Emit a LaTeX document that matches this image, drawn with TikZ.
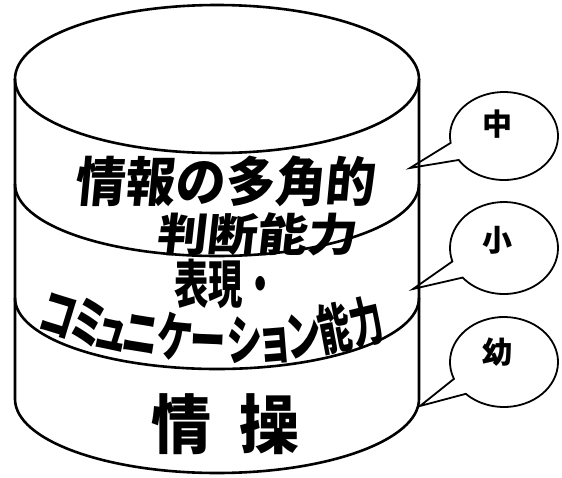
\documentclass[tikz,border=0pt]{standalone}
\usepackage{fontspec}
\usepackage{graphicx}
\newfontfamily\jp{Noto Sans CJK JP}
\newfontfamily\jpsl{Noto Sans CJK JP}[FakeSlant=0.1]
\newcommand\ktxsq[1]{\scalebox{0.66}[1]{#1}}
\newcommand\kjxsq[1]{\scalebox{0.6}[1]{#1}}
\begin{document}
\begin{tikzpicture}[x=1pt,y=-1pt,
  cyl/.style={line width=2.6pt},
  bub/.style={line width=1.8pt, line join=miter},
  big/.style={inner sep=0pt, text height=44pt, text depth=6pt, font=\jpsl\bfseries\fontsize{50}{50}\selectfont},
  kata/.style={inner sep=0pt, text height=47.5pt, text depth=6.5pt, font=\jp\bfseries\fontsize{54}{54}\selectfont},
  bubtxt/.style={inner sep=0pt, font=\jp\bfseries\fontsize{30}{30}\selectfont}]
\useasboundingbox (0,0) rectangle (562,477);
% cylinder
\draw[cyl] (217,79) ellipse [x radius=202, y radius=74];
\draw[cyl] (15,79) -- (15,399) arc[start angle=180, end angle=0, x radius=202, y radius=74] -- (419,79);
\draw[cyl] (15,184) arc[start angle=180, end angle=0, x radius=202, y radius=72];
\draw[cyl] (15,298) arc[start angle=180, end angle=0, x radius=202, y radius=71];
% texts
\node[big] (t1) at (224,182) {\scalebox{1}[1.06]{情報の多角的}};
\node[big] (t2) at (256,232) {\scalebox{1}[0.9]{判断能力}};
\node[inner sep=0pt, text height=45.8pt, text depth=6.2pt, font=\jp\bfseries\fontsize{52}{52}\selectfont] (t3) at (226,284) {\scalebox{0.66}[1]{表現・}};
\node[kata, rotate=-17.1] (k1) at (59,313.7) {\ktxsq{コ}};
\node[kata, rotate=-14.2] (k2) at (89,322.1) {\ktxsq{ミ}};
\node[kata, rotate=-11.9] (k3) at (113,327.7) {\ktxsq{ュ}};
\node[kata, rotate=-9.1] (k4) at (141,332.9) {\ktxsq{ニ}};
\node[kata, rotate=-5.7] (k5) at (175,337.3) {\ktxsq{ケ}};
\node[kata, rotate=-2.3] (k6) at (208,339.6) {\ktxsq{ー}};
\node[kata, rotate=1.5] (k7) at (245,339.8) {\ktxsq{シ}};
\node[kata, rotate=4.6] (k8) at (275,338.2) {\ktxsq{ョ}};
\node[kata, rotate=7.5] (k9) at (303,335.2) {\ktxsq{ン}};
\node[kata, rotate=10.7] (k10) at (335,328.5) {\kjxsq{能}};
\node[kata, rotate=13.6] (k11) at (366,322) {\kjxsq{力}};
\node[inner sep=0pt, text height=53pt, text depth=7pt, font=\jp\bfseries\fontsize{60}{60}\selectfont] (t5) at (225.5,425) {\scalebox{1}[1.07]{情\hspace{29pt}操}};
% bubbles
\coordinate (tipA) at (410,168);
\coordinate (tipB) at (413,289);
\coordinate (tipC) at (420,406);
\draw[bub] ([shift={(171:54 and 44)}]504,136) arc[start angle=171, end angle=507, x radius=54, y radius=44] -- (tipA) -- cycle;
\draw[bub] ([shift={(163:54 and 46)}]504,248) arc[start angle=163, end angle=500, x radius=54, y radius=46] -- (tipB) -- cycle;
\draw[bub] ([shift={(158:54 and 45)}]504,362) arc[start angle=158, end angle=495, x radius=54, y radius=45] -- (tipC) -- cycle;
\node[bubtxt] (bA) at (497,124) {中};
\node[bubtxt] (bB) at (497,240) {小};
\node[bubtxt] (bC) at (497,352) {幼};
\end{tikzpicture}
\end{document}
